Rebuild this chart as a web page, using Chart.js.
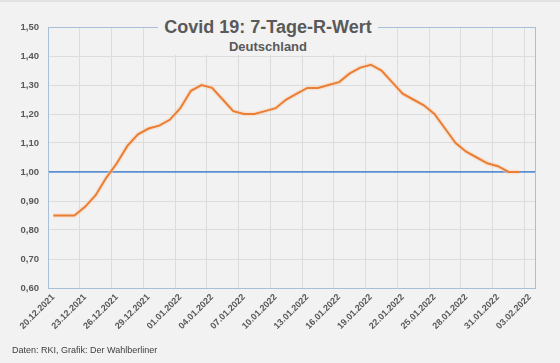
<!DOCTYPE html>
<html>
<head>
<meta charset="utf-8">
<script src="https://cdn.jsdelivr.net/npm/chart.js@4/dist/chart.umd.min.js"></script>
<style>
body { margin: 0; background: #f2f2f2; }
#wrap { position: relative; width: 560px; height: 363px; background: #f2f2f2; border-top: 2px solid #e2e2e2; box-sizing: border-box; font-family: "Liberation Sans", Arial, sans-serif; }
#myChart { position: absolute; left: 0; top: -2px; }
#titlebox { position: absolute; left: 158px; top: 11px; width: 220px; height: 42px; background: #f2f2f2; }
#title { position: absolute; left: 0; width: 100%; top: 5px; text-align: center; font-weight: bold; font-size: 18px; line-height: 18px; color: #595959; white-space: nowrap; }
#subtitle { position: absolute; left: 0; width: 100%; top: 27px; text-align: center; font-weight: bold; font-size: 13px; line-height: 13px; color: #595959; }
#source { position: absolute; left: 12px; top: 344px; font-size: 9px; line-height: 9px; color: #404040; white-space: nowrap; }
</style>
</head>
<body>
<div id="wrap">
<canvas id="myChart" width="560" height="363"></canvas>
<div id="titlebox"><div id="title">Covid 19: 7-Tage-R-Wert</div><div id="subtitle">Deutschland</div></div>
<div id="source">Daten: RKI, Grafik: Der Wahlberliner</div>
</div>
<script>
var days = ["20.12.2021","21.12.2021","22.12.2021","23.12.2021","24.12.2021","25.12.2021",
"26.12.2021","27.12.2021","28.12.2021","29.12.2021","30.12.2021","31.12.2021",
"01.01.2022","02.01.2022","03.01.2022","04.01.2022","05.01.2022","06.01.2022",
"07.01.2022","08.01.2022","09.01.2022","10.01.2022","11.01.2022","12.01.2022",
"13.01.2022","14.01.2022","15.01.2022","16.01.2022","17.01.2022","18.01.2022",
"19.01.2022","20.01.2022","21.01.2022","22.01.2022","23.01.2022","24.01.2022",
"25.01.2022","26.01.2022","27.01.2022","28.01.2022","29.01.2022","30.01.2022",
"31.01.2022","01.02.2022","02.02.2022","03.02.2022"];

// 7-Tage-R-Wert, one value per day (last day on the axis has no value)
var rWert = [0.85, 0.85, 0.85, 0.88, 0.92, 0.98, 1.03, 1.09, 1.13, 1.15, 1.16, 1.18,
1.22, 1.28, 1.30, 1.29, 1.25, 1.21, 1.20, 1.20, 1.21, 1.22, 1.25, 1.27,
1.29, 1.29, 1.30, 1.31, 1.34, 1.36, 1.37, 1.35, 1.31, 1.27, 1.25, 1.23,
1.20, 1.15, 1.10, 1.07, 1.05, 1.03, 1.02, 1.00, 1.00];

var yMin = 0.6;
var yMax = 1.5;
var yStep = 0.1;
var labelEvery = 3;

var frameColor = '#a9bfd9';
var gridColor = '#dcdcdc';
var oneColor = '#5b8fd3';

var ctx = document.getElementById("myChart");
var myChart = new Chart(ctx, {
  type: 'line',
  data: {
    labels: days,
    datasets: [
      {
        label: "R-Wert",
        data: rWert,
        borderColor: '#ea7e35',
        borderWidth: 2,
        pointRadius: 0,
        tension: 0,
        fill: false,
        order: 1
      },
      {
        label: "glow",
        data: rWert,
        borderColor: 'rgba(250,210,180,0.5)',
        borderWidth: 4.5,
        pointRadius: 0,
        tension: 0,
        fill: false,
        order: 2
      }
    ]
  },
  options: {
    responsive: false,
    animation: false,
    events: [],
    layout: { padding: { left: 8, top: 27, right: 25, bottom: 20 } },
    plugins: {
      legend: { display: false },
      title: { display: false },
      tooltip: { enabled: false }
    },
    scales: {
      x: {
        offset: true,
        afterFit: function(scale) { scale.height = 55; },
        grid: {
          offset: true,
          drawTicks: false,
          lineWidth: 1,
          color: function(c) {
            if (c.index === undefined) return frameColor;
            if (c.index % labelEvery === 0) return gridColor;
            return 'rgba(0,0,0,0)';
          }
        },
        border: { color: frameColor, width: 1 },
        ticks: {
          autoSkip: false,
          maxRotation: 45,
          minRotation: 45,
          padding: 4,
          color: '#595959',
          font: { family: '"Liberation Sans", Arial, sans-serif', size: 9, weight: 'bold' },
          callback: function(v, i) { return i % labelEvery === 0 ? days[i] : ''; }
        }
      },
      y: {
        min: yMin,
        max: yMax,
        afterFit: function(scale) { scale.width = 40; },
        grid: {
          drawTicks: false,
          color: function(c) {
            var v = c.tick ? c.tick.value : 0;
            if (Math.abs(v - 1) < 1e-6) return oneColor;
            if (Math.abs(v - yMax) < 1e-6) return frameColor;
            return gridColor;
          },
          lineWidth: function(c) {
            var v = c.tick ? c.tick.value : 0;
            return Math.abs(v - 1) < 1e-6 ? 1.75 : 1;
          }
        },
        border: { color: frameColor, width: 1 },
        ticks: {
          stepSize: yStep,
          padding: 9,
          color: '#595959',
          font: { family: '"Liberation Sans", Arial, sans-serif', size: 9.5, weight: 'bold' },
          callback: function(v) { return v.toFixed(2).replace('.', ','); }
        }
      }
    }
  }
});
</script>
</body>
</html>
